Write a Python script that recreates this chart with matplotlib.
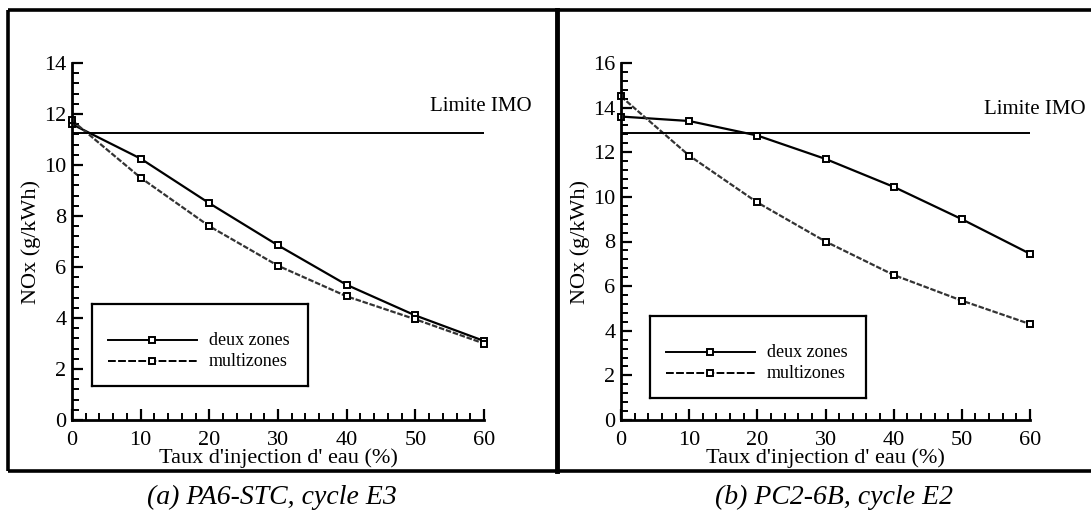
import matplotlib
matplotlib.use("Agg")
import matplotlib.pyplot as plt
from matplotlib.ticker import MultipleLocator
from matplotlib.lines import Line2D

plt.rcParams['font.family'] = ['Liberation Serif', 'DejaVu Serif']

taux = [0, 10, 20, 30, 40, 50, 60]

# (a) PA6-STC, cycle E3
a_deux = [11.6, 10.25, 8.5, 6.85, 5.3, 4.1, 3.1]
a_multi = [11.75, 9.5, 7.6, 6.05, 4.85, 3.95, 3.0]
a_imo = 11.25

# (b) PC2-6B, cycle E2
b_deux = [13.6, 13.4, 12.75, 11.7, 10.45, 9.0, 7.45]
b_multi = [14.5, 11.85, 9.75, 8.0, 6.5, 5.35, 4.3]
b_imo = 12.85

labels = ["deux zones", "multizones"]
captions = ["(a) PA6-STC, cycle E3", "(b) PC2-6B, cycle E2"]
xlabel = "Taux d'injection d' eau (%)"
ylabel = "NOx (g/kWh)"
imo_text = "Limite IMO"

W, H = 1091, 524
fig = plt.figure(figsize=(W / 100, H / 100), dpi=100)

def fx(px):
    return px / W

def fy(py):
    return 1 - py / H

# outer frames
frame_kw = dict(color='black', lw=2.6, solid_capstyle='butt', transform=fig.transFigure)
fig.add_artist(Line2D([fx(8), fx(1091)], [fy(10), fy(10)], **frame_kw))
fig.add_artist(Line2D([fx(8), fx(1091)], [fy(471), fy(471)], **frame_kw))
fig.add_artist(Line2D([fx(8), fx(8)], [fy(10), fy(471)], **frame_kw))
fig.add_artist(Line2D([fx(557), fx(557)], [fy(10), fy(471)], color='black', lw=3.5,
                      transform=fig.transFigure))

panels = [
    dict(x0=72, x1=484, ymax=14, deux=a_deux, multi=a_multi, imo=a_imo,
         leg=(92, 304, 308, 386), imo_txt=(430, 106), cap=272),
    dict(x0=621, x1=1030, ymax=16, deux=b_deux, multi=b_multi, imo=b_imo,
         leg=(650, 316, 866, 398), imo_txt=(984, 109), cap=834),
]

y_top, y_bot = 63, 420

for i, p in enumerate(panels):
    ax = fig.add_axes([fx(p['x0']), fy(y_bot), fx(p['x1'] - p['x0']), (y_bot - y_top) / H])
    ax.set_xlim(0, 60)
    ax.set_ylim(0, p['ymax'])
    for s in ['top', 'right']:
        ax.spines[s].set_visible(False)
    for s in ['left', 'bottom']:
        ax.spines[s].set_linewidth(2.0)
    ax.xaxis.set_major_locator(MultipleLocator(10))
    ax.xaxis.set_minor_locator(MultipleLocator(2))
    ax.yaxis.set_major_locator(MultipleLocator(2))
    ax.yaxis.set_minor_locator(MultipleLocator(0.4))
    ax.tick_params(which='major', direction='in', length=8, width=1.6, labelsize=16)
    ax.tick_params(which='minor', direction='in', length=5, width=1.4)
    ax.tick_params(axis='x', which='major', pad=8)
    ax.tick_params(axis='y', which='major', pad=4)
    ax.set_xlabel(xlabel, fontsize=16, labelpad=-1)
    ax.set_ylabel(ylabel, fontsize=16, labelpad=2)
    # raise the y "0" label slightly and shift x "0" right, as in the reference
    ax.get_yticklabels()[0].set_verticalalignment('bottom')

    ax.plot(taux, p['deux'], color='black', lw=1.6, marker='s', ms=4.5,
            mfc='white', mec='black', mew=1.4, clip_on=False)
    ax.plot(taux, p['multi'], color='#333333', lw=1.6, ls=(0, (2.5, 0.8)), marker='s', ms=4.5,
            mfc='white', mec='black', mew=1.4, clip_on=False)
    ax.plot([0, 60], [p['imo'], p['imo']], color='black', lw=1.4)

    fig.text(fx(p['imo_txt'][0]), fy(p['imo_txt'][1]), imo_text, fontsize=15,
             ha='left', va='center')

    # legend box
    lx0, ly0, lx1, ly1 = p['leg']
    leg_ax = fig.add_axes([fx(lx0), fy(ly1), fx(lx1 - lx0), (ly1 - ly0) / H])
    leg_ax.set_xlim(0, 1)
    leg_ax.set_ylim(0, 1)
    leg_ax.set_xticks([])
    leg_ax.set_yticks([])
    leg_ax.patch.set_facecolor('white')
    for s in leg_ax.spines.values():
        s.set_linewidth(1.6)
    rows = [0.56, 0.3]
    styles = ['-', (0, (4, 1.2))]
    for r, st, lab in zip(rows, styles, labels):
        leg_ax.plot([0.075, 0.485], [r, r], color='black', lw=1.4, ls=st)
        leg_ax.plot([0.28], [r], marker='s', ms=4.5, mfc='white', mec='black', mew=1.4)
        leg_ax.text(0.54, r, lab, fontsize=13, ha='left', va='center')

    fig.text(fx(p['cap']), fy(497), captions[i], fontsize=20, style='italic',
             ha='center', va='center')

fig.savefig("out.png", dpi=100)
